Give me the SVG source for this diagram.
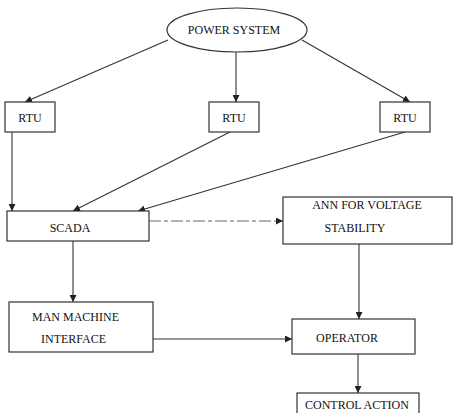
<svg xmlns="http://www.w3.org/2000/svg" width="454" height="413" viewBox="0 0 454 413">
<style>
.box{fill:#fff;stroke:#333;stroke-width:1.2}
.t{font-family:"Liberation Serif","Times New Roman",serif;font-size:12px;fill:#111}
.c{stroke:#333;stroke-width:1.1;fill:none}
.d{stroke:#666;stroke-width:1.1;fill:none;stroke-dasharray:12 3 4 3}
</style>
<defs>
<marker id="ah" viewBox="0 0 10 10" refX="10" refY="5" markerWidth="7" markerHeight="7" orient="auto" markerUnits="userSpaceOnUse">
<path d="M0,0 L10,5 L0,10 z" fill="#222"/>
</marker>
</defs>
<rect width="454" height="413" fill="#fff"/>
<g id="connectors">
<line class="c" x1="168" y1="40" x2="25" y2="102" marker-end="url(#ah)"/>
<line class="c" x1="236" y1="52" x2="236" y2="102" marker-end="url(#ah)"/>
<line class="c" x1="302" y1="40" x2="410" y2="102" marker-end="url(#ah)"/>
<line class="c" x1="12" y1="132" x2="12" y2="211" marker-end="url(#ah)"/>
<line class="c" x1="230" y1="132" x2="73" y2="211" marker-end="url(#ah)"/>
<line class="c" x1="405" y1="132" x2="138" y2="211" marker-end="url(#ah)"/>
<line class="d" x1="149" y1="221" x2="283" y2="221" marker-end="url(#ah)"/>
<line class="c" x1="73" y1="241" x2="73" y2="302" marker-end="url(#ah)"/>
<line class="c" x1="359" y1="244" x2="359" y2="319" marker-end="url(#ah)"/>
<line class="c" x1="153" y1="339" x2="292" y2="339" marker-end="url(#ah)"/>
<line class="c" x1="358" y1="354" x2="358" y2="393" marker-end="url(#ah)"/>
</g>
<g id="power-system">
<ellipse class="box" cx="237" cy="30" rx="70" ry="22"/>
<text class="t" x="234" y="34" text-anchor="middle">POWER SYSTEM</text>
</g>
<g id="rtu1">
<rect class="box" x="5" y="102" width="50" height="30"/>
<text class="t" x="30" y="122" text-anchor="middle">RTU</text>
</g>
<g id="rtu2">
<rect class="box" x="209" y="102" width="50" height="30"/>
<text class="t" x="234" y="122" text-anchor="middle">RTU</text>
</g>
<g id="rtu3">
<rect class="box" x="380" y="102" width="50" height="30"/>
<text class="t" x="405" y="122" text-anchor="middle">RTU</text>
</g>
<g id="scada">
<rect class="box" x="7" y="211" width="142" height="30"/>
<text class="t" x="70" y="232" text-anchor="middle">SCADA</text>
</g>
<g id="ann">
<rect class="box" x="283" y="197" width="169" height="47"/>
<text class="t" x="367" y="209" text-anchor="middle">ANN FOR VOLTAGE</text>
<text class="t" x="355" y="232" text-anchor="middle">STABILITY</text>
</g>
<g id="mmi">
<rect class="box" x="9" y="302" width="144" height="50"/>
<text class="t" x="32" y="321">MAN MACHINE</text>
<text class="t" x="41" y="343">INTERFACE</text>
</g>
<g id="operator">
<rect class="box" x="292" y="319" width="123" height="35"/>
<text class="t" x="347" y="342" text-anchor="middle">OPERATOR</text>
</g>
<g id="control-action">
<rect class="box" x="297" y="393" width="122" height="25"/>
<text class="t" x="305" y="409">CONTROL  ACTION</text>
</g>
</svg>
